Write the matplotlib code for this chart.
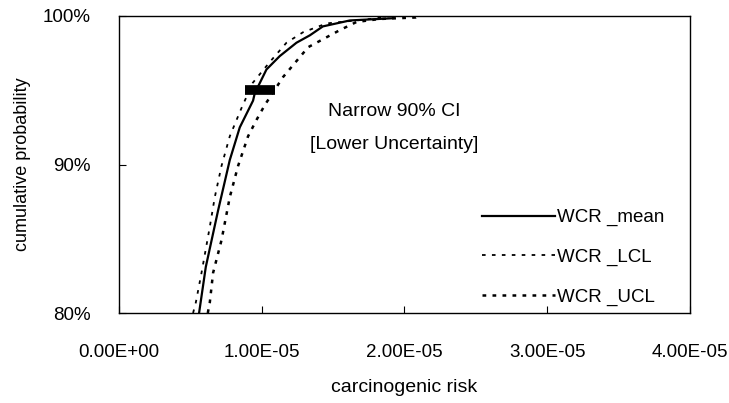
import numpy as np
import matplotlib
matplotlib.use("Agg")
import matplotlib.pyplot as plt

plt.rcParams['font.family'] = ['Liberation Sans', 'DejaVu Sans']

# cumulative curves: risk (units of 1e-5) vs cumulative probability (%)
mean_risk = [0.562, 0.609, 0.695, 0.777, 0.847, 0.940, 0.952, 1.034, 1.127, 1.244, 1.338, 1.429, 1.618, 1.919, 1.93]
mean_prob = [80.0, 83.1, 86.9, 90.3, 92.5, 94.3, 94.8, 96.4, 97.3, 98.2, 98.7, 99.3, 99.7, 99.85, 100.0]

lcl_risk = [0.52, 0.539, 0.579, 0.637, 0.672, 0.719, 0.777, 0.859, 0.938, 1.057, 1.174, 1.289, 1.455, 1.76, 1.91]
lcl_prob = [80.0, 80.7, 82.7, 85.8, 87.8, 89.9, 91.9, 93.8, 95.5, 96.9, 98.2, 98.9, 99.5, 99.8, 100.0]

ucl_risk = [0.623, 0.637, 0.66, 0.719, 0.777, 0.835, 0.905, 0.964, 1.022, 1.151, 1.326, 1.548, 1.665, 1.828, 2.08, 2.1]
ucl_prob = [80.0, 80.7, 82.7, 84.9, 87.8, 89.9, 91.9, 93.0, 94.0, 95.9, 97.9, 99.05, 99.6, 99.8, 99.9, 100.0]

# 90% CI bar at the 95th percentile
ci_level = 95.0
ci_low, ci_high = 0.882, 1.092

xticks = [0, 1e-5, 2e-5, 3e-5, 4e-5]
xticklabels = ['0.00E+00', '1.00E-05', '2.00E-05', '3.00E-05', '4.00E-05']
yticks = [80, 90, 100]
yticklabels = ['80%', '90%', '100%']

scale = 1e-5
fig = plt.figure(figsize=(7.29, 4.03), dpi=100)
ax = fig.add_axes([0.163, 0.2233, 0.7835, 0.737])

ax.plot(np.array(mean_risk) * scale, mean_prob, color='black', lw=1.6, label='WCR _mean')
ax.plot(np.array(lcl_risk) * scale, lcl_prob, color='black', lw=1.3, linestyle=(0, (2, 3.5)), label='WCR _LCL')
ax.plot(np.array(ucl_risk) * scale, ucl_prob, color='black', lw=1.8, linestyle=(0, (1.5, 2.5)), label='WCR _UCL')

ax.plot([ci_low * scale, ci_high * scale], [ci_level, ci_level], color='black', lw=7, solid_capstyle='butt')

ax.text(0.482, 0.68, 'Narrow 90% CI', transform=ax.transAxes, ha='center', va='center', fontsize=14)
ax.text(0.482, 0.568, '[Lower Uncertainty]', transform=ax.transAxes, ha='center', va='center', fontsize=14)

ax.set_xlim(0, 4e-5)
ax.set_ylim(80, 100)
ax.set_xticks(xticks)
ax.set_xticklabels(xticklabels)
ax.set_yticks(yticks)
ax.set_yticklabels(yticklabels)
ax.tick_params(axis='both', direction='in', length=5, labelsize=13.5)
ax.tick_params(axis='x', pad=22)
ax.tick_params(axis='y', pad=20)
for s in ax.spines.values():
    s.set_linewidth(1.0)

ax.set_xlabel('carcinogenic risk', fontsize=14, labelpad=13)
ax.set_ylabel('cumulative probability', fontsize=13, labelpad=9)

ax.legend(loc='upper left', bbox_to_anchor=(0.635, 0.35), frameon=False, fontsize=13.5,
          handlelength=3.9, handletextpad=0.1, labelspacing=1.2, borderpad=0, borderaxespad=0)

fig.savefig('out.png', dpi=100)
